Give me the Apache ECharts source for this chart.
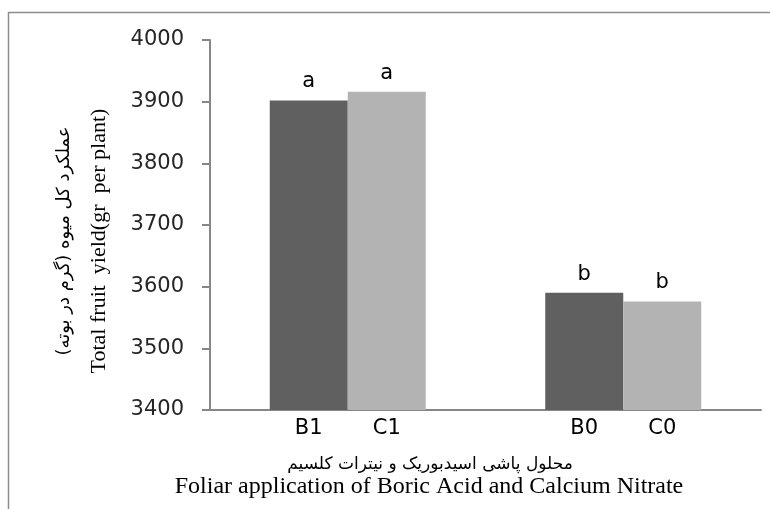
<!DOCTYPE html>
<html>
<head>
<meta charset="utf-8">
<script src="https://cdn.jsdelivr.net/npm/echarts@6/dist/echarts.min.js"></script>
<style>html,body{margin:0;padding:0;background:#fff;}#c{width:770px;height:509px;}</style>
</head>
<body>
<div id="c"></div>
<script>
// ---- data ----
var groups = ['1', '0'];
var labelsB = ['B1', 'B0'];
var labelsC = ['C1', 'C0'];
var valuesB = [3902, 3590];
var valuesC = [3916, 3576];
var lettersB = ['a', 'b'];
var lettersC = ['a', 'b'];
var yTicks = [3400, 3500, 3600, 3700, 3800, 3900, 4000];
var yTitleEn = 'Total fruit  yield(gr  per plant)';
var yTitleFa = 'عملکرد کل میوه (گرم در بوته)';
var xTitleFa = 'محلول پاشی اسیدبوریک و نیترات کلسیم';
var xTitleEn = 'Foliar application of Boric Acid and Calcium Nitrate';

var chart = echarts.init(document.getElementById('c'), null, {renderer: 'canvas'});
var sans = 'DejaVu Sans';

function letterLabel(letters) {
  return {
    show: true, position: 'top', distance: 8,
    fontFamily: sans, fontSize: 21, color: '#000',
    formatter: function (p) { return letters[p.dataIndex]; }
  };
}

chart.setOption({
  animation: false,
  grid: {left: 210, right: 9, top: 40, bottom: 99, containLabel: false},
  xAxis: {
    type: 'category',
    data: groups,
    axisLine: {lineStyle: {color: '#868686', width: 2}},
    axisTick: {show: false},
    axisLabel: {
      margin: 8,
      formatter: function (v, i) { return '{l|' + labelsB[i] + '}{r|' + labelsC[i] + '}'; },
      rich: {
        l: {width: 78, align: 'center', fontFamily: sans, fontSize: 21, color: '#000'},
        r: {width: 78, align: 'center', fontFamily: sans, fontSize: 21, color: '#000'}
      }
    }
  },
  yAxis: {
    type: 'value',
    min: yTicks[0], max: yTicks[yTicks.length - 1], interval: 100,
    axisLine: {show: true, lineStyle: {color: '#868686', width: 2}},
    axisTick: {show: true, inside: false, length: 8, lineStyle: {color: '#868686', width: 2}},
    splitLine: {show: false},
    axisLabel: {margin: 26, fontFamily: sans, fontSize: 21, color: '#262626',
      formatter: function (v) { return String(v); }}
  },
  series: [
    {
      type: 'bar', name: 'B', data: valuesB, barWidth: 78, barGap: '0%',
      itemStyle: {color: '#606060'},
      label: letterLabel(lettersB)
    },
    {
      type: 'bar', name: 'C', data: valuesC, barWidth: 78, barGap: '0%',
      itemStyle: {color: '#b3b3b3'},
      label: letterLabel(lettersC)
    }
  ],
  graphic: [
    {type: 'line', shape: {x1: 8, y1: 12.5, x2: 770, y2: 12.5}, style: {stroke: '#8c8c8c', lineWidth: 1.5}},
    {type: 'line', shape: {x1: 8.5, y1: 12, x2: 8.5, y2: 509}, style: {stroke: '#8c8c8c', lineWidth: 1.5}},
    {type: 'text', x: 99, y: 241, rotation: Math.PI / 2,
      style: {text: yTitleEn, font: '22px "Liberation Serif"', fill: '#000', align: 'center', verticalAlign: 'middle'}},
    {type: 'text', x: 64, y: 241, rotation: Math.PI / 2,
      style: {text: yTitleFa, font: '18px "DejaVu Sans"', fill: '#000', align: 'center', verticalAlign: 'middle'}},
    {type: 'text', x: 430, y: 465,
      style: {text: xTitleFa, font: '17px "DejaVu Sans"', fill: '#000', align: 'center', verticalAlign: 'middle'}},
    {type: 'text', x: 429, y: 487,
      style: {text: xTitleEn, font: '24px "Liberation Serif"', fill: '#000', align: 'center', verticalAlign: 'middle'}}
  ]
});
</script>
</body>
</html>
